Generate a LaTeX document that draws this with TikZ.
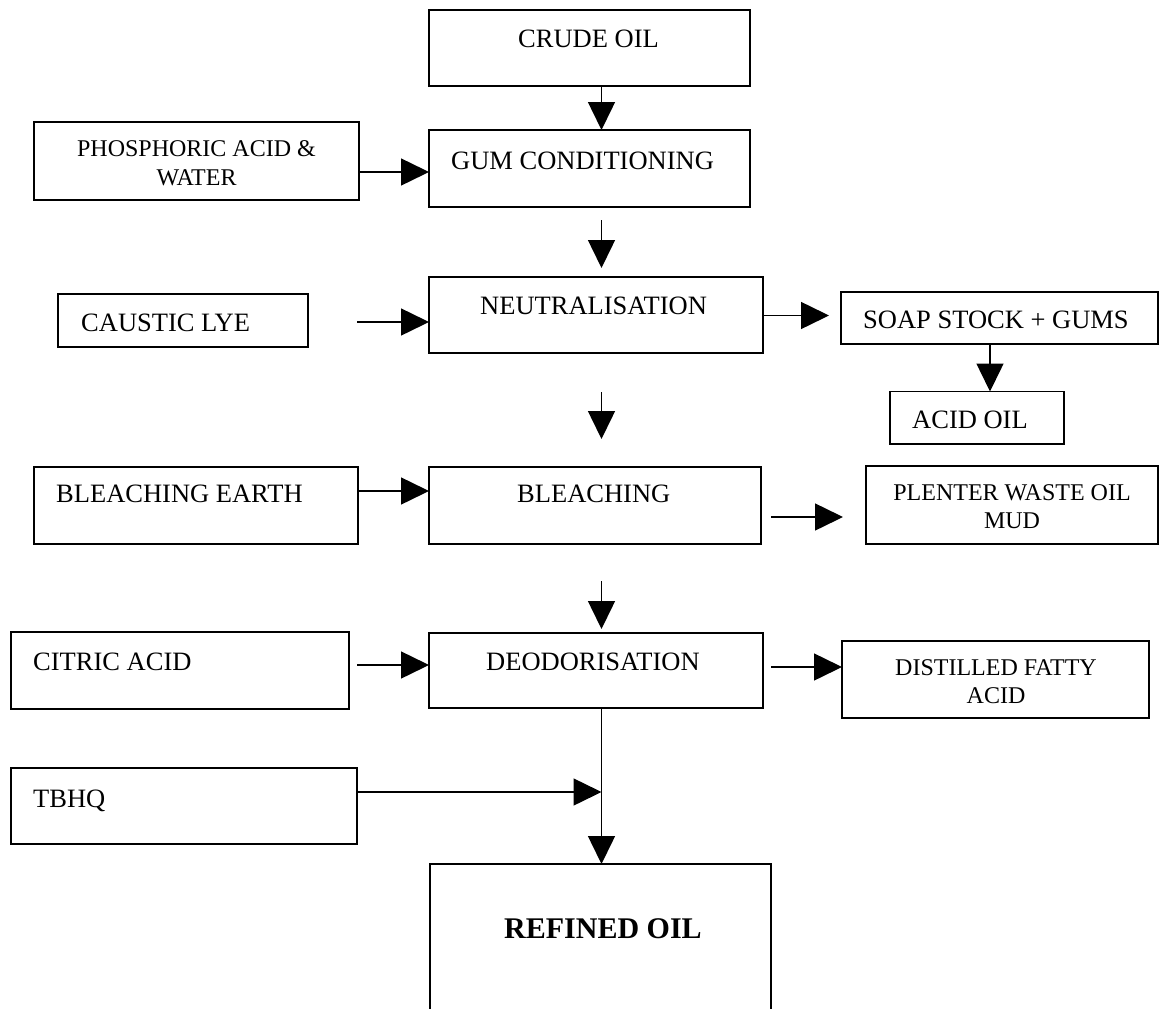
\documentclass[tikz,border=0pt]{standalone}
\usepackage{fontspec}
\setmainfont{Liberation Serif}
\usetikzlibrary{arrows.meta}
\tikzset{
  box/.style={draw, line width=1.2pt, rectangle, anchor=north west, inner sep=0pt, outer sep=0pt},
  lbl/.style={inner sep=0pt, anchor=base west, font=\fontsize{26.5}{30}\selectfont},
  lbltwo/.style={inner sep=0pt, anchor=base, font=\fontsize{24}{29}\selectfont},
  lblbold/.style={inner sep=0pt, anchor=base, font=\fontsize{30}{34}\selectfont\bfseries},
  arr/.style={line width=1.5pt, -{Triangle[length=28pt,width=27pt]}},
}
\begin{document}
\begin{tikzpicture}[x=1pt,y=-1pt]
\useasboundingbox (0,0) rectangle (1162,1009);
\clip (0,0) rectangle (1162,1009);
\fill[white] (0,0) rectangle (1162,1009);

% boxes
\node[box, minimum width=321pt, minimum height=76pt] (crude) at (429,10) {};
\node[box, minimum width=321pt, minimum height=77pt] (gum) at (429,130) {};
\node[box, minimum width=325pt, minimum height=78pt] (phos) at (34,122) {};
\node[box, minimum width=334pt, minimum height=76pt] (neut) at (429,277) {};
\node[box, minimum width=250pt, minimum height=53pt] (caustic) at (58,294) {};
\node[box, minimum width=317pt, minimum height=52pt] (soap) at (841,292) {};
\node[box, minimum width=174pt, minimum height=52.5pt] (acid) at (890,391.5) {};
\node[box, minimum width=324pt, minimum height=77pt] (bearth) at (34,467) {};
\node[box, minimum width=332pt, minimum height=77pt] (bleach) at (429,467) {};
\node[box, minimum width=292pt, minimum height=78pt] (plenter) at (866,466) {};
\node[box, minimum width=338pt, minimum height=77pt] (citric) at (11,632) {};
\node[box, minimum width=334pt, minimum height=75pt] (deodor) at (429,633) {};
\node[box, minimum width=307pt, minimum height=77pt] (distilled) at (842,641) {};
\node[box, minimum width=346pt, minimum height=76pt] (tbhq) at (11,768) {};
\node[box, minimum width=341pt, minimum height=170pt] (refined) at (430,864) {};

% texts
\node[lbl] (tcrude) at (518,47) {CRUDE OIL};
\node[lbl] (tgum) at (451,169) {GUM CONDITIONING};
\node[lbltwo] (tphos1) at (196.5,156) {PHOSPHORIC ACID \&};
\node[lbltwo] (tphos2) at (196.5,185) {WATER};
\node[lbl] (tneut) at (480,314) {NEUTRALISATION};
\node[lbl] (tcaustic) at (81,331) {CAUSTIC LYE};
\node[lbl] (tsoap) at (863,328) {SOAP STOCK + GUMS};
\node[lbl] (tacid) at (912,428) {ACID OIL};
\node[lbl] (tbearth) at (56,502) {BLEACHING EARTH};
\node[lbl] (tbleach) at (517,502) {BLEACHING};
\node[lbltwo] (tplenter1) at (1012,500.5) {PLENTER WASTE OIL};
\node[lbltwo] (tplenter2) at (1012,528) {MUD};
\node[lbl] (tcitric) at (33,670) {CITRIC ACID};
\node[lbl] (tdeodor) at (486,670) {DEODORISATION};
\node[lbltwo] (tdist1) at (996,675) {DISTILLED FATTY};
\node[lbltwo] (tdist2) at (996,703) {ACID};
\node[lbl] (ttbhq) at (33,807) {TBHQ};
\node[lblbold] (trefined) at (603,938) {REFINED OIL};

% free arrow ends
\coordinate (axis) at (601.5,0);
\coordinate (gumS) at (601.5,220);
\coordinate (neutT) at (601.5,268);
\coordinate (cauS) at (357,322);
\coordinate (soapT) at (829,315.5);
\coordinate (acidX) at (990,0);
\coordinate (bleS) at (601.5,392);
\coordinate (bleT) at (601.5,439);
\coordinate (plS) at (771,517);
\coordinate (plT) at (843,517);
\coordinate (deoS) at (601.5,581);
\coordinate (deoT) at (601.5,629);
\coordinate (citS) at (357,665);
\coordinate (disS) at (771,667);

% connectors
\draw[arr] (crude.south -| axis) -- (gum.north -| axis);
\draw[arr] (phos.east |- 0,172) -- (gum.west |- 0,172);
\draw[arr] (gumS) -- (neutT);
\draw[arr] (cauS) -- (neut.west |- cauS);
\draw[arr] (neut.east |- soapT) -- (soapT);
\draw[arr] (soap.south -| acidX) -- (acid.north -| acidX);
\draw[arr] (bleS) -- (bleT);
\draw[arr] (bearth.east |- 0,491) -- (bleach.west |- 0,491);
\draw[arr] (plS) -- (plT);
\draw[arr] (deoS) -- (deoT);
\draw[arr] (citS) -- (deodor.west |- citS);
\draw[arr] (disS) -- (distilled.west |- disS);
\draw[arr] (tbhq.east |- 0,792) -- (axis |- 0,792);
\draw[arr] (deodor.south -| axis) -- (refined.north -| axis);
\end{tikzpicture}
\end{document}
